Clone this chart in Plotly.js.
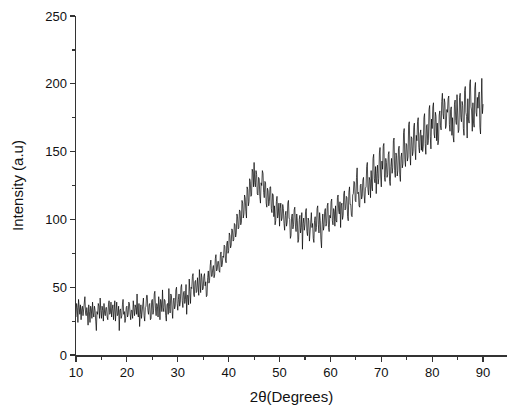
<!DOCTYPE html>
<html><head><meta charset="utf-8">
<script src="https://cdn.plot.ly/plotly-3.0.1.min.js"></script>
<style>html,body{margin:0;padding:0;background:#fff}#chart{width:507px;height:409px}</style>
</head><body><div id="chart"></div>
<script>
// 2-theta from 10 to 90 in steps of 0.125 degrees (8 readings per degree)
const xStart = 10, xStep = 0.125;
const intensity = [
28,38,35,24,41,33,30,37, 26,34,36,29,33,40,43,31, 29,35,31,22,37,32,24,36, 34,27,39,31,28,36,33,25,
18,32,30,38,36,27,42,33, 27,36,33,25,38,31,29,35, 35,28,26,37,40,30,31,39, 28,34,37,26,33,40,25,31,
39,29,30,36,18,33,34,27, 29,37,41,30,32,24,27,35, 36,28,30,39,38,31,26,33, 33,27,40,34,29,37,35,30,
45,31,28,38,21,30,37,27, 31,39,42,29,25,35,36,44, 44,33,30,37,38,26,27,40, 41,30,33,45,47,34,29,38,
36,28,43,37,26,41,39,32, 48,35,32,41,40,29,25,37, 38,30,49,36,31,45,44,33, 27,40,42,34,36,48,50,38,
33,41,45,36,39,50,52,40, 35,46,47,38,41,52,30,44, 44,37,56,47,38,50,49,58, 60,45,43,54,55,46,47,57,
52,44,63,55,46,60,57,48, 49,58,60,51,54,43,44,57, 62,53,55,66,70,58,58,64, 66,57,59,71,74,62,63,69,
69,62,61,74,76,65,67,73, 72,81,80,70,68,82,84,75, 77,90,88,79,81,93,92,84, 85,97,96,87,90,104,102,93,
94,107,106,96,98,114,112,101, 104,118,116,106,101,124,122,110, 113,130,128,117,118,137,135,124,
142,127,124,136,133,119,118,131, 130,117,112,127,125,136,134,120, 116,128,127,112,109,123,121,110,
113,124,124,108,105,119,118,102, 110,96,99,113,117,101,104,112, 95,108,112,99,101,111,108,97,
92,103,106,95,98,112,114,101, 100,86,88,102,104,93,96,107, 109,95,91,104,99,83,85,100,
103,90,94,105,78,97,101,92, 96,106,108,91,88,101,99,84, 92,103,105,94,97,86,83,99,
102,91,94,108,110,96,90,105, 99,85,79,96,104,92,95,106, 108,95,97,110,112,94,91,103,
101,113,115,99,96,108,106,95, 110,99,98,116,118,106,104,113, 94,110,112,100,103,119,121,107,
108,117,116,102,99,120,124,111, 111,103,102,118,119,128,127,114, 113,131,138,119,120,110,109,125,
126,115,117,129,131,118,112,123, 124,139,142,122,118,131,129,116, 136,124,121,145,148,130,127,139,
119,134,140,126,130,149,153,132, 124,143,137,154,156,131,128,145, 142,131,133,148,150,128,125,139,
145,134,138,158,160,136,131,149, 147,132,136,152,154,133,128,146, 149,138,141,164,167,144,139,156,
155,143,146,170,172,148,140,161, 160,147,150,168,171,152,144,162, 158,172,175,153,149,163,166,151,
162,150,154,175,178,156,148,169, 170,155,158,181,184,161,152,174, 167,183,186,163,160,179,176,158,
171,155,158,177,180,169,166,187, 193,178,174,189,186,167,169,181, 179,189,191,170,165,181,183,162,
175,161,157,185,188,173,170,192, 181,164,166,190,193,175,172,187, 184,167,162,195,198,179,176,160,
189,174,171,200,203,183,180,165, 186,171,168,197,201,179,176,190, 182,192,194,168,163,185,204,178,
185
];
const twoTheta = intensity.map((_, i) => xStart + i * xStep);
const xTicks = [10,20,30,40,50,60,70,80,90];
const yTicks = [0,50,100,150,200,250];

const trace = {x: twoTheta, y: intensity, type: 'scatter', mode: 'lines',
  line: {color: '#000', width: 0.7}, hoverinfo: 'skip'};
const fam = 'Liberation Sans, Arial, sans-serif';
const axisFont = {family: fam, size: 13, color: '#111'};
const layout = {
  width: 507, height: 409,
  margin: {l: 76, r: 0, t: 16, b: 54},
  paper_bgcolor: '#fff', plot_bgcolor: '#fff',
  showlegend: false,
  xaxis: {range: [10, 94.7], tickvals: xTicks, ticks: 'outside', ticklen: 5, tickwidth: 1.2,
    tickcolor: '#333', showline: true, linecolor: '#333', linewidth: 1.5, showgrid: false, zeroline: false,
    tickfont: axisFont, minor: {dtick: 5, tick0: 0, ticks: 'outside', ticklen: 3, tickcolor: '#333', showgrid: false},
    title: {text: '2θ(Degrees)', font: {family: fam, size: 15, color: '#111'}, standoff: 12}},
  yaxis: {range: [0, 250], tickvals: yTicks, ticks: 'outside', ticklen: 5, tickwidth: 1.2,
    tickcolor: '#333', showline: true, linecolor: '#333', linewidth: 1.5, showgrid: false, zeroline: false,
    tickfont: axisFont, minor: {dtick: 25, tick0: 0, ticks: 'outside', ticklen: 3, tickcolor: '#333', showgrid: false},
    title: {text: 'Intensity (a.u)', font: {family: fam, size: 15, color: '#111'}, standoff: 18}}
};
Plotly.newPlot('chart', [trace], layout, {staticPlot: true, displayModeBar: false});
</script></body></html>
